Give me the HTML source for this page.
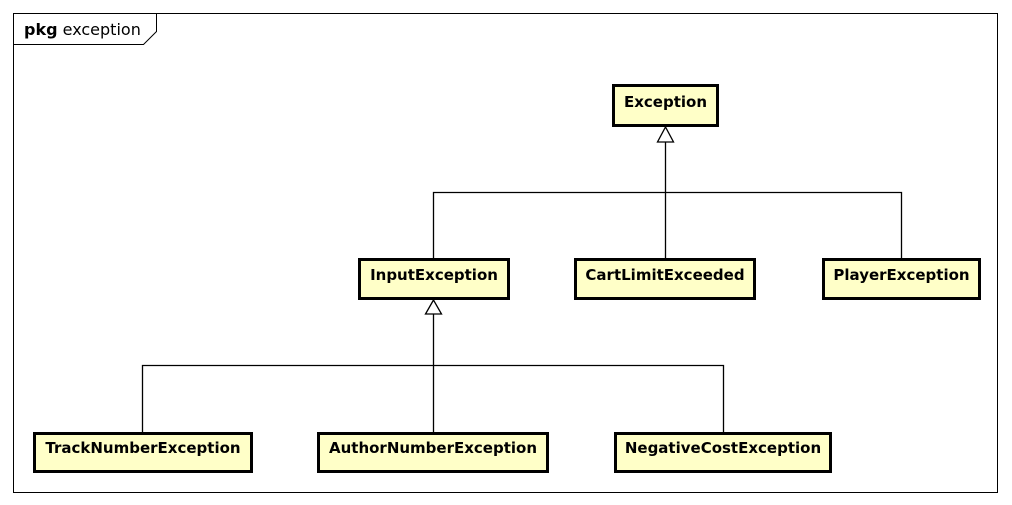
<!DOCTYPE html>
<html><head><meta charset="utf-8"><style>
html,body{margin:0;padding:0;background:#fff;}
svg{display:block;}
text{font-family:"DejaVu Sans","Liberation Sans",sans-serif;}
</style></head><body>
<svg width="1012" height="505" viewBox="0 0 1012 505" xmlns="http://www.w3.org/2000/svg">
<rect x="13.5" y="13.5" width="984" height="479" fill="#fff" stroke="#000" stroke-width="1"/>
<path d="M13.5 44.5 H143.5 L156.5 31.5 V13.5" fill="none" stroke="#000" stroke-width="1"/>
<text x="24" y="35" font-size="16"><tspan font-weight="bold">pkg</tspan> exception</text>

<g stroke="#000" stroke-width="1.3" fill="none">
<path d="M665.5 142 V258 M433.5 258 V192.5 H901.5 V258"/>
<path d="M433.5 314 V432 M142.5 432 V365.5 H723.5 V432"/>
</g>
<polygon points="665.5,127 657.5,142 673.5,142" fill="#fff" stroke="#000" stroke-width="1.3"/>
<polygon points="433.5,300 425.5,314 441.5,314" fill="#fff" stroke="#000" stroke-width="1.3"/>

<g fill="#ffffc8" stroke="#000" stroke-width="3">
<rect x="613.5" y="85.5" width="104" height="40"/>
<rect x="359.5" y="259.5" width="149" height="39"/>
<rect x="575.5" y="259.5" width="179" height="39"/>
<rect x="823.5" y="259.5" width="156" height="39"/>
<rect x="34.5" y="433.5" width="217" height="38"/>
<rect x="318.5" y="433.5" width="229" height="38"/>
<rect x="615.5" y="433.5" width="215" height="38"/>
</g>
<g font-size="15" font-weight="bold" text-anchor="middle" fill="#000">
<text x="665.5" y="107">Exception</text>
<text x="434" y="280">InputException</text>
<text x="665" y="280">CartLimitExceeded</text>
<text x="901.5" y="280">PlayerException</text>
<text x="143" y="453">TrackNumberException</text>
<text x="433" y="453">AuthorNumberException</text>
<text x="723" y="453">NegativeCostException</text>
</g>
</svg>
</body></html>
